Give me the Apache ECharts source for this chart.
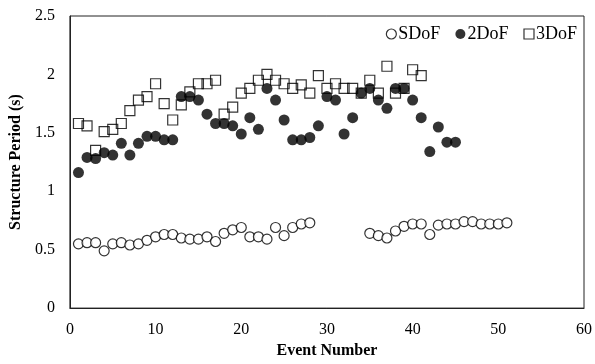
<!DOCTYPE html>
<html lang="en">
<head>
    <meta charset="UTF-8">
    <title>Structure Period</title>
    <script src="https://cdn.jsdelivr.net/npm/echarts@6/dist/echarts.min.js"></script>
</head>
<body style="margin:0">
<div id="chart" style="width: 595px;height: 364px"></div>

<script type="text/javascript">
    // event numbers and periods
    var eventsS = [1, 2, 3, 4, 5, 6, 7, 8, 9, 10, 11, 12, 13, 14, 15, 16, 17, 18, 19, 20,
        21, 22, 23, 24, 25, 26, 27, 28,
        35, 36, 37, 38, 39, 40, 41, 42, 43, 44, 45, 46, 47, 48, 49, 50, 51];
    var sdof = [0.55, 0.56, 0.56, 0.49, 0.55, 0.56, 0.54, 0.55, 0.58, 0.61, 0.63, 0.63, 0.60, 0.59, 0.59, 0.61, 0.57, 0.64, 0.67, 0.69,
        0.61, 0.61, 0.59, 0.69, 0.62, 0.69, 0.72, 0.73,
        0.64, 0.62, 0.60, 0.66, 0.70, 0.72, 0.72, 0.63, 0.71, 0.72, 0.72, 0.74, 0.74, 0.72, 0.72, 0.72, 0.73];

    var events2 = [1, 2, 3, 4, 5, 6, 7, 8, 9, 10, 11, 12, 13, 14, 15, 16, 17, 18, 19, 20,
        21, 22, 23, 24, 25, 26, 27, 28, 29, 30, 31, 32, 33, 34, 35, 36, 37, 38, 39, 40,
        41, 42, 43, 44, 45];
    var dof2 = [1.16, 1.29, 1.28, 1.33, 1.31, 1.41, 1.31, 1.41, 1.47, 1.47, 1.44, 1.44, 1.81, 1.81, 1.78, 1.66, 1.58, 1.58, 1.56, 1.49,
        1.63, 1.53, 1.88, 1.78, 1.61, 1.44, 1.44, 1.46, 1.56, 1.81, 1.78, 1.49, 1.63, 1.84, 1.88, 1.78, 1.71, 1.88, 1.88, 1.78,
        1.63, 1.34, 1.55, 1.42, 1.42];

    var events3 = [1, 2, 3, 4, 5, 6, 7, 8, 9, 10, 11, 12, 13, 14, 15, 16, 17, 18, 19, 20,
        21, 22, 23, 24, 25, 26, 27, 28, 29, 30, 31, 32, 33, 34, 35, 36, 37, 38, 39, 40, 41];
    var dof3 = [1.58, 1.56, 1.35, 1.51, 1.53, 1.58, 1.69, 1.78, 1.81, 1.92, 1.75, 1.61, 1.74, 1.85, 1.92, 1.92, 1.95, 1.66, 1.72, 1.84,
        1.88, 1.95, 2.00, 1.95, 1.92, 1.88, 1.91, 1.84, 1.99, 1.88, 1.92, 1.88, 1.88, 1.84, 1.95, 1.84, 2.07, 1.84, 1.88, 2.04, 1.99];

    function pairs(xs, ys) {
        var out = [];
        for (var i = 0; i < xs.length; i++) out.push([xs[i], ys[i]]);
        return out;
    }

    var font = 'Liberation Serif';
    var myChart = echarts.init(document.getElementById('chart'));

    var option = {
        animation: false,
        textStyle: {fontFamily: font, color: '#000'},
        grid: {
            left: 67, right: 9, top: 16, bottom: 46,
            show: true, borderColor: '#222', borderWidth: 1
        },
        legend: {
            right: 13, top: 20,
            itemWidth: 10, itemHeight: 10, itemGap: 15,
            textStyle: {fontFamily: font, fontSize: 18, color: '#000', padding: [0, 0, 0, -3]},
            data: [
                {name: 'SDoF', icon: 'circle', itemStyle: {color: '#fff', borderColor: '#000', borderWidth: 1.2}},
                {name: '2DoF', icon: 'circle', itemStyle: {color: '#000', borderColor: '#000', borderWidth: 0}},
                {name: '3DoF', icon: 'rect', itemStyle: {color: '#fff', borderColor: '#000', borderWidth: 1.2}}
            ]
        },
        xAxis: {
            type: 'value', min: 0, max: 60, interval: 10,
            name: 'Event Number', nameLocation: 'middle', nameGap: 27,
            nameTextStyle: {fontFamily: font, fontSize: 16, fontWeight: 'bold', color: '#000'},
            axisLine: {lineStyle: {color: '#222'}},
            axisTick: {show: false},
            splitLine: {show: false},
            axisLabel: {fontFamily: font, fontSize: 16, color: '#000', margin: 14}
        },
        yAxis: {
            type: 'value', min: 0, max: 2.5, interval: 0.5,
            name: 'Structure Period (s)', nameLocation: 'middle', nameGap: 40,
            nameTextStyle: {fontFamily: font, fontSize: 16, fontWeight: 'bold', color: '#000'},
            axisLine: {show: true, lineStyle: {color: '#222'}},
            axisTick: {show: false},
            splitLine: {show: false},
            axisLabel: {fontFamily: font, fontSize: 16, color: '#000', margin: 15}
        },
        series: [
            {
                name: 'SDoF', type: 'scatter', symbol: 'circle', symbolSize: 10,
                itemStyle: {color: '#fff', borderColor: '#000', borderWidth: 1.2},
                data: pairs(eventsS, sdof)
            },
            {
                name: '2DoF', type: 'scatter', symbol: 'circle', symbolSize: 11,
                itemStyle: {color: '#000'},
                data: pairs(events2, dof2)
            },
            {
                name: '3DoF', type: 'scatter', symbol: 'rect', symbolSize: 10,
                itemStyle: {color: 'rgba(255,255,255,0)', borderColor: '#000', borderWidth: 1.2},
                data: pairs(events3, dof3)
            }
        ]
    };

    myChart.setOption(option);
</script>
</body>
</html>
